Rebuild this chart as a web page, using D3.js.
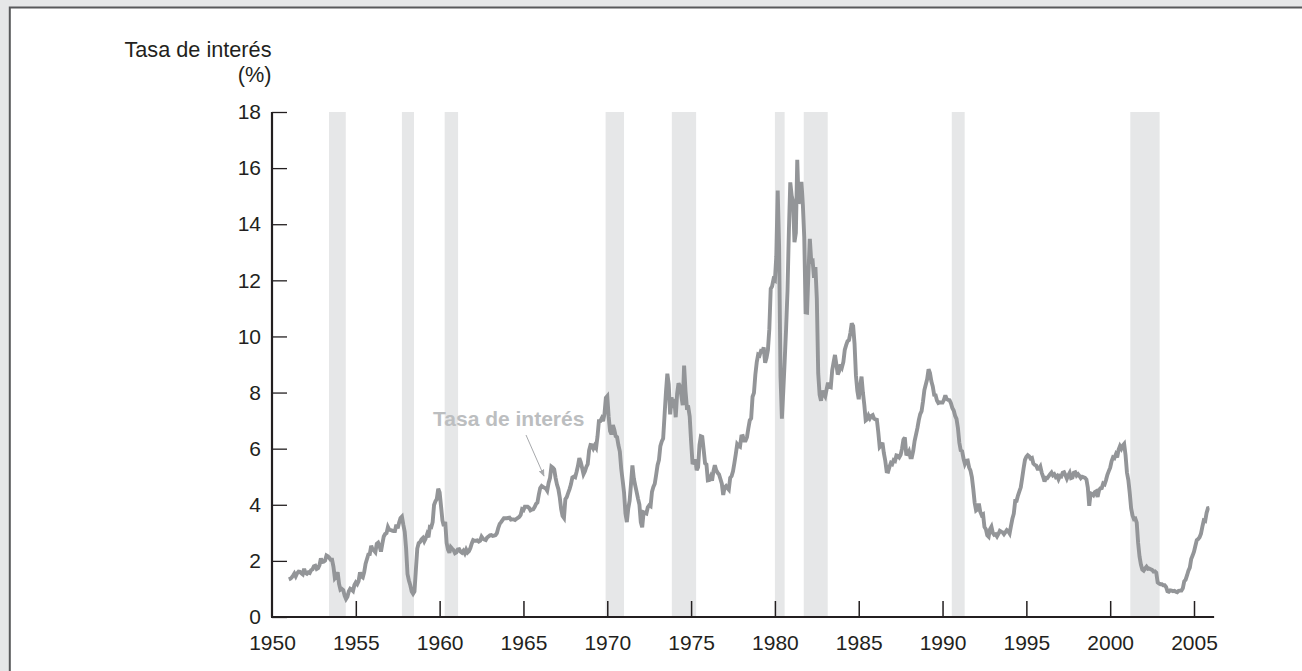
<!DOCTYPE html>
<html>
<head>
<meta charset="utf-8">
<script src="https://cdn.jsdelivr.net/npm/d3@7"></script>
<style>
  html, body { margin: 0; padding: 0; background: #e6e7e8; }
  svg { display: block; font-family: "Liberation Sans", Arial, Helvetica, sans-serif; }
</style>
</head>
<body>
<svg id="chart" width="1302" height="671"></svg>
<script>
// 3-month T-bill rate, monthly, Jan 1951 - Dec 2005 (%)
const startYear = 1951;
const rates = [
  1.34, 1.36, 1.40, 1.47, 1.55, 1.45, 1.56, 1.62, 1.61, 1.56, 1.52, 1.72, // 1951
  1.57, 1.54, 1.59, 1.57, 1.67, 1.70, 1.81, 1.83, 1.71, 1.74, 1.85, 2.09, // 1952
  1.96, 1.97, 2.01, 2.19, 2.16, 2.11, 2.04, 2.04, 1.79, 1.38, 1.44, 1.60, // 1953
  1.18, 0.97, 1.00, 0.96, 0.76, 0.64, 0.72, 0.92, 1.01, 0.98, 0.93, 1.14, // 1954
  1.23, 1.17, 1.28, 1.59, 1.45, 1.41, 1.60, 1.90, 2.07, 2.23, 2.24, 2.54, // 1955
  2.41, 2.37, 2.31, 2.61, 2.65, 2.53, 2.33, 2.61, 2.87, 2.96, 2.99, 3.21, // 1956
  3.11, 3.10, 3.08, 3.06, 3.06, 3.29, 3.16, 3.37, 3.53, 3.58, 3.29, 3.04, // 1957
  2.44, 1.53, 1.30, 1.13, 0.91, 0.83, 0.91, 1.69, 2.44, 2.63, 2.67, 2.77, // 1958
  2.82, 2.70, 2.80, 2.95, 2.84, 3.21, 3.20, 3.38, 3.99, 4.12, 4.21, 4.57, // 1959
  4.44, 3.95, 3.44, 3.24, 3.39, 2.64, 2.40, 2.29, 2.49, 2.43, 2.38, 2.27, // 1960
  2.30, 2.41, 2.42, 2.33, 2.29, 2.36, 2.27, 2.40, 2.30, 2.35, 2.46, 2.62, // 1961
  2.74, 2.72, 2.72, 2.73, 2.69, 2.72, 2.86, 2.79, 2.76, 2.74, 2.83, 2.87, // 1962
  2.91, 2.92, 2.89, 2.90, 2.92, 2.99, 3.18, 3.32, 3.38, 3.45, 3.52, 3.52, // 1963
  3.52, 3.53, 3.54, 3.47, 3.48, 3.48, 3.46, 3.50, 3.53, 3.57, 3.64, 3.84, // 1964
  3.81, 3.93, 3.93, 3.93, 3.89, 3.80, 3.83, 3.84, 3.92, 4.03, 4.08, 4.36, // 1965
  4.60, 4.67, 4.63, 4.61, 4.58, 4.50, 4.78, 4.95, 5.36, 5.32, 5.26, 4.96, // 1966
  4.72, 4.56, 4.26, 3.84, 3.60, 3.53, 4.20, 4.27, 4.42, 4.56, 4.73, 4.97, // 1967
  5.00, 4.98, 5.17, 5.38, 5.66, 5.52, 5.31, 5.09, 5.19, 5.35, 5.45, 5.94, // 1968
  6.13, 6.12, 6.01, 6.11, 6.03, 6.43, 6.98, 6.98, 7.08, 6.98, 7.24, 7.81, // 1969
  7.87, 7.13, 6.63, 6.51, 6.84, 6.68, 6.45, 6.41, 6.12, 5.90, 5.28, 4.87, // 1970
  4.44, 3.70, 3.38, 3.86, 4.14, 4.75, 5.40, 4.94, 4.69, 4.46, 4.22, 4.01, // 1971
  3.38, 3.20, 3.73, 3.71, 3.69, 3.91, 3.98, 3.95, 4.46, 4.64, 4.75, 5.07, // 1972
  5.41, 5.60, 6.09, 6.26, 6.36, 7.19, 8.01, 8.67, 8.29, 7.22, 7.83, 7.45, // 1973
  7.77, 7.12, 7.96, 8.33, 8.23, 7.90, 7.55, 8.96, 8.06, 7.46, 7.47, 7.15, // 1974
  6.26, 5.50, 5.49, 5.61, 5.23, 5.34, 6.13, 6.44, 6.42, 5.96, 5.48, 5.44, // 1975
  4.87, 4.88, 5.00, 4.86, 5.20, 5.41, 5.23, 5.14, 5.08, 4.92, 4.75, 4.35, // 1976
  4.62, 4.67, 4.60, 4.54, 4.96, 5.02, 5.19, 5.49, 5.81, 6.16, 6.10, 6.07, // 1977
  6.44, 6.45, 6.29, 6.29, 6.41, 6.73, 7.01, 7.08, 7.85, 7.99, 8.64, 9.08, // 1978
  9.35, 9.32, 9.48, 9.46, 9.61, 9.06, 9.24, 9.52, 10.26, 11.70, 11.79, 12.04, // 1979
  12.00, 12.86, 15.20, 13.20, 8.58, 7.07, 8.06, 9.13, 10.27, 11.62, 13.73, 15.49, // 1980
  15.02, 14.79, 13.36, 13.69, 16.30, 14.73, 14.95, 15.51, 14.70, 13.54, 10.86, 10.85, // 1981
  12.28, 13.48, 12.68, 12.70, 12.09, 12.47, 11.35, 8.68, 7.92, 7.71, 8.07, 7.94, // 1982
  7.86, 8.11, 8.35, 8.21, 8.19, 8.79, 9.08, 9.34, 9.00, 8.64, 8.76, 9.00, // 1983
  8.90, 9.09, 9.52, 9.69, 9.83, 9.87, 10.12, 10.47, 10.37, 9.74, 8.61, 8.06, // 1984
  7.76, 8.22, 8.57, 8.00, 7.56, 7.01, 7.05, 7.18, 7.08, 7.17, 7.20, 7.07, // 1985
  7.04, 7.03, 6.59, 6.06, 6.12, 6.21, 5.84, 5.57, 5.19, 5.18, 5.35, 5.49, // 1986
  5.45, 5.59, 5.56, 5.76, 5.75, 5.69, 5.78, 6.00, 6.32, 6.40, 5.81, 5.80, // 1987
  5.90, 5.69, 5.69, 5.92, 6.27, 6.50, 6.73, 7.02, 7.23, 7.34, 7.68, 8.09, // 1988
  8.29, 8.48, 8.83, 8.70, 8.40, 8.22, 7.92, 7.91, 7.72, 7.63, 7.65, 7.64, // 1989
  7.64, 7.74, 7.90, 7.77, 7.74, 7.73, 7.62, 7.45, 7.36, 7.17, 7.06, 6.74, // 1990
  6.22, 5.94, 5.91, 5.65, 5.46, 5.57, 5.58, 5.33, 5.22, 4.99, 4.56, 4.07, // 1991
  3.80, 3.84, 4.04, 3.75, 3.63, 3.66, 3.21, 3.13, 2.91, 2.86, 3.13, 3.22, // 1992
  3.00, 2.93, 2.95, 2.87, 2.96, 3.07, 3.04, 3.02, 2.95, 3.02, 3.10, 3.06, // 1993
  2.98, 3.25, 3.50, 3.68, 4.14, 4.14, 4.33, 4.48, 4.62, 4.95, 5.29, 5.60, // 1994
  5.71, 5.77, 5.73, 5.65, 5.67, 5.47, 5.42, 5.40, 5.28, 5.28, 5.36, 5.14, // 1995
  5.00, 4.83, 4.96, 4.95, 5.02, 5.09, 5.15, 5.05, 5.09, 4.99, 5.03, 4.91, // 1996
  5.03, 5.01, 5.14, 5.16, 5.05, 4.93, 5.05, 5.14, 4.95, 4.97, 5.14, 5.16, // 1997
  5.04, 5.09, 5.03, 4.95, 5.00, 4.98, 4.96, 4.90, 4.61, 3.96, 4.41, 4.39, // 1998
  4.34, 4.45, 4.48, 4.28, 4.51, 4.59, 4.60, 4.76, 4.73, 4.88, 5.07, 5.20, // 1999
  5.32, 5.55, 5.69, 5.66, 5.79, 5.69, 5.96, 6.09, 6.00, 6.11, 6.17, 5.77, // 2000
  5.15, 4.88, 4.42, 3.87, 3.62, 3.49, 3.51, 3.36, 2.64, 2.16, 1.87, 1.69, // 2001
  1.65, 1.73, 1.79, 1.72, 1.73, 1.70, 1.68, 1.62, 1.63, 1.58, 1.23, 1.19, // 2002
  1.17, 1.17, 1.13, 1.13, 1.07, 0.92, 0.90, 0.95, 0.94, 0.92, 0.93, 0.90, // 2003
  0.88, 0.93, 0.94, 0.94, 1.02, 1.27, 1.33, 1.48, 1.65, 1.76, 2.07, 2.19, // 2004
  2.33, 2.54, 2.74, 2.78, 2.84, 2.97, 3.22, 3.44, 3.42, 3.71, 3.88, 3.89  // 2005
];

// shaded recession periods [start, end] in decimal years
const recessions = [
  [1953.4, 1954.4], [1957.75, 1958.47], [1960.3, 1961.1],
  [1969.9, 1971.0], [1973.85, 1975.3], [1980.0, 1980.58],
  [1981.72, 1983.15], [1990.55, 1991.32], [2001.2, 2002.95]
];

const yTicks = [0, 2, 4, 6, 8, 10, 12, 14, 16, 18];
const xTicks = [1950, 1955, 1960, 1965, 1970, 1975, 1980, 1985, 1990, 1995, 2000, 2005];

const data = rates.map((r, i) => ({ t: startYear + i / 12, rate: r }));

const svg = d3.select("#chart");

// panel
svg.append("rect")
  .attr("x", 9.8).attr("y", 7.5)
  .attr("width", 1400).attr("height", 800)
  .attr("fill", "#fff")
  .attr("stroke", "#58595b")
  .attr("stroke-width", 2);

const x = d3.scaleLinear().domain([1950, 2005]).range([272, 1194]);
const y = d3.scaleLinear().domain([0, 18]).range([617, 112]);
const axisEnd = 2006.2;

// recession bands
svg.append("g")
  .selectAll("rect")
  .data(recessions)
  .join("rect")
  .attr("x", d => x(d[0]))
  .attr("width", d => x(d[1]) - x(d[0]))
  .attr("y", y(18))
  .attr("height", y(0) - y(18))
  .attr("fill", "#e6e7e8");

// y axis
const yAxis = svg.append("g")
  .attr("transform", `translate(${x(1950)},0)`)
  .call(d3.axisLeft(y).tickValues(yTicks).tickSizeInner(-15).tickSizeOuter(0).tickPadding(11));
yAxis.select(".domain").remove();
yAxis.selectAll(".tick line").attr("stroke", "#231f20").attr("stroke-width", 1.3);
yAxis.selectAll("text").attr("fill", "#231f20").style("font-size", "21px");
yAxis.append("line")
  .attr("y1", y(18)).attr("y2", y(0))
  .attr("stroke", "#231f20").attr("stroke-width", 2.2);

// x axis
const xAxis = svg.append("g")
  .attr("transform", `translate(0,${y(0)})`)
  .call(d3.axisBottom(x).tickValues(xTicks).tickFormat(d3.format("d"))
    .tickSizeInner(-16).tickSizeOuter(0).tickPadding(18));
xAxis.select(".domain").remove();
xAxis.selectAll(".tick line")
  .attr("stroke", "#231f20").attr("stroke-width", 1.5)
  .filter(d => d === 1950).remove();
xAxis.selectAll("text").attr("fill", "#231f20").style("font-size", "21px");
xAxis.append("line")
  .attr("x1", x(1950) - 1).attr("x2", x(axisEnd))
  .attr("stroke", "#231f20").attr("stroke-width", 2.2);

// series line
const line = d3.line()
  .x(d => x(d.t))
  .y(d => y(d.rate));

svg.append("path")
  .datum(data)
  .attr("fill", "none")
  .attr("stroke", "#939598")
  .attr("stroke-width", 3.9)
  .attr("stroke-linejoin", "miter")
  .attr("stroke-miterlimit", 3)
  .attr("d", line);

// axis title
svg.append("text")
  .attr("x", 271.5).attr("y", 57)
  .attr("text-anchor", "end")
  .attr("fill", "#231f20")
  .style("font-size", "21.7px")
  .text("Tasa de interés");
svg.append("text")
  .attr("x", 271.5).attr("y", 82)
  .attr("text-anchor", "end")
  .attr("fill", "#231f20")
  .style("font-size", "21.7px")
  .text("(%)");

// series label with arrow
const defs = svg.append("defs");
defs.append("marker")
  .attr("id", "arrow")
  .attr("viewBox", "0 0 10 10")
  .attr("refX", 9).attr("refY", 5)
  .attr("markerWidth", 7).attr("markerHeight", 7)
  .attr("orient", "auto")
  .append("path")
  .attr("d", "M0,1 L10,5 L0,9 Z")
  .attr("fill", "#a7a9ac");

svg.append("text")
  .attr("x", 433).attr("y", 426)
  .attr("fill", "#bcbec0")
  .style("font-size", "21px")
  .style("font-weight", "bold")
  .text("Tasa de interés");

svg.append("line")
  .attr("x1", 526).attr("y1", 435)
  .attr("x2", 544).attr("y2", 476)
  .attr("stroke", "#a7a9ac")
  .attr("stroke-width", 1)
  .attr("marker-end", "url(#arrow)");
</script>
</body>
</html>
